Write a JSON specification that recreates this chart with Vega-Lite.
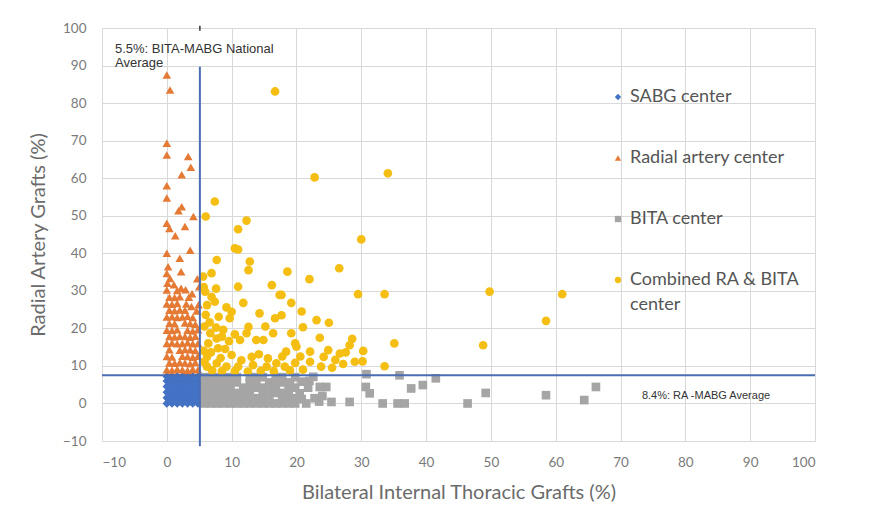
{
  "$schema": "https://vega.github.io/schema/vega-lite/v6.json",
  "width": 713,
  "height": 413,
  "autosize": {"type": "none"},
  "padding": {"left": 102, "top": 28, "right": 58, "bottom": 73},
  "background": "white",
  "config": {
    "view": {"stroke": null},
    "font": "Lato",
    "axis": {"grid": true, "gridColor": "#D9D9D9", "gridWidth": 1, "domain": false, "ticks": false, "labelOverlap": false, "tickCount": 20, "labelFont": "Lato", "labelFontSize": 13.5, "labelColor": "#7a7a7a", "titleFont": "Lato", "titleFontSize": 20, "titleFontWeight": "normal", "titleColor": "#6b6b6b"},
    "legend": {"orient": "none", "legendX": 507, "legendY": 60, "title": null, "labelFont": "Lato", "labelFontSize": 18, "labelColor": "#555555", "symbolSize": 40, "rowPadding": 43, "labelOffset": 3, "labelLimit": 300},
    "style": {"guide-label": {"lineHeight": 25}}
  },
  "layer": [
    {
      "data": {"values": [
        {"x":0,"y":0,"g":"S"},{"x":0.8,"y":0,"g":"S"},{"x":1.6,"y":0,"g":"S"},{"x":2.4,"y":0,"g":"S"},{"x":3.2,"y":0,"g":"S"},{"x":4,"y":0,"g":"S"},{"x":4.8,"y":0,"g":"S"},
        {"x":0,"y":1.5,"g":"S"},{"x":0.8,"y":1.5,"g":"S"},{"x":1.6,"y":1.5,"g":"S"},{"x":2.4,"y":1.5,"g":"S"},{"x":3.2,"y":1.5,"g":"S"},{"x":4,"y":1.5,"g":"S"},{"x":4.8,"y":1.5,"g":"S"},
        {"x":0,"y":3,"g":"S"},{"x":0.8,"y":3,"g":"S"},{"x":1.6,"y":3,"g":"S"},{"x":2.4,"y":3,"g":"S"},{"x":3.2,"y":3,"g":"S"},{"x":4,"y":3,"g":"S"},{"x":4.8,"y":3,"g":"S"},
        {"x":0,"y":4.5,"g":"S"},{"x":0.8,"y":4.5,"g":"S"},{"x":1.6,"y":4.5,"g":"S"},{"x":2.4,"y":4.5,"g":"S"},{"x":3.2,"y":4.5,"g":"S"},{"x":4,"y":4.5,"g":"S"},{"x":4.8,"y":4.5,"g":"S"},
        {"x":0,"y":6,"g":"S"},{"x":0.8,"y":6,"g":"S"},{"x":1.6,"y":6,"g":"S"},{"x":2.4,"y":6,"g":"S"},{"x":3.2,"y":6,"g":"S"},{"x":4,"y":6,"g":"S"},{"x":4.8,"y":6,"g":"S"},
        {"x":0,"y":7.2,"g":"S"},{"x":0.8,"y":7.2,"g":"S"},{"x":1.6,"y":7.2,"g":"S"},{"x":2.4,"y":7.2,"g":"S"},{"x":3.2,"y":7.2,"g":"S"},{"x":4,"y":7.2,"g":"S"},{"x":4.8,"y":7.2,"g":"S"},
        {"x":0.4,"y":0.75,"g":"S"},{"x":1.2,"y":0.75,"g":"S"},{"x":2,"y":0.75,"g":"S"},{"x":2.8,"y":0.75,"g":"S"},{"x":3.6,"y":0.75,"g":"S"},{"x":4.4,"y":0.75,"g":"S"},
        {"x":0.4,"y":2.25,"g":"S"},{"x":1.2,"y":2.25,"g":"S"},{"x":2,"y":2.25,"g":"S"},{"x":2.8,"y":2.25,"g":"S"},{"x":3.6,"y":2.25,"g":"S"},{"x":4.4,"y":2.25,"g":"S"},
        {"x":0.4,"y":3.75,"g":"S"},{"x":1.2,"y":3.75,"g":"S"},{"x":2,"y":3.75,"g":"S"},{"x":2.8,"y":3.75,"g":"S"},{"x":3.6,"y":3.75,"g":"S"},{"x":4.4,"y":3.75,"g":"S"},
        {"x":0.4,"y":5.25,"g":"S"},{"x":1.2,"y":5.25,"g":"S"},{"x":2,"y":5.25,"g":"S"},{"x":2.8,"y":5.25,"g":"S"},{"x":3.6,"y":5.25,"g":"S"},{"x":4.4,"y":5.25,"g":"S"},
        {"x":0.4,"y":6.6,"g":"S"},{"x":1.2,"y":6.6,"g":"S"},{"x":2,"y":6.6,"g":"S"},{"x":2.8,"y":6.6,"g":"S"},{"x":3.6,"y":6.6,"g":"S"},{"x":4.4,"y":6.6,"g":"S"},

        {"x":0,"y":87.5,"g":"R"},{"x":0.5,"y":83.5,"g":"R"},{"x":0,"y":69.3,"g":"R"},{"x":0,"y":66.2,"g":"R"},{"x":3.3,"y":65.8,"g":"R"},{"x":3.7,"y":62.9,"g":"R"},{"x":2.3,"y":60.9,"g":"R"},{"x":0,"y":58,"g":"R"},{"x":0,"y":54.7,"g":"R"},{"x":2.3,"y":52.4,"g":"R"},{"x":1.8,"y":51.3,"g":"R"},{"x":4.1,"y":49.8,"g":"R"},{"x":0,"y":48,"g":"R"},{"x":0.4,"y":46.6,"g":"R"},{"x":2.8,"y":47.1,"g":"R"},{"x":1.3,"y":44.7,"g":"R"},{"x":0,"y":40,"g":"R"},{"x":2,"y":38.7,"g":"R"},{"x":3.6,"y":40.8,"g":"R"},{"x":0.2,"y":36.4,"g":"R"},{"x":2.2,"y":35.1,"g":"R"},{"x":0.5,"y":33.3,"g":"R"},{"x":1.1,"y":31.6,"g":"R"},{"x":2.2,"y":30.7,"g":"R"},{"x":2.9,"y":30.3,"g":"R"},{"x":3.8,"y":25.8,"g":"R"},{"x":5,"y":31.1,"g":"R"},{"x":4.7,"y":33.2,"g":"R"},{"x":0,"y":34.6,"g":"R"},{"x":3.9,"y":29.2,"g":"R"},
        {"x":0,"y":9,"g":"R"},{"x":0.8,"y":8.9,"g":"R"},{"x":1.6,"y":9.1,"g":"R"},{"x":2.4,"y":9,"g":"R"},{"x":3.2,"y":8.8,"g":"R"},{"x":4,"y":9.1,"g":"R"},{"x":4.8,"y":9,"g":"R"},
        {"x":0.4,"y":10.8,"g":"R"},{"x":1.2,"y":10.7,"g":"R"},{"x":2,"y":10.9,"g":"R"},{"x":2.8,"y":10.8,"g":"R"},{"x":3.6,"y":10.6,"g":"R"},{"x":4.4,"y":10.9,"g":"R"},
        {"x":0,"y":12.5,"g":"R"},{"x":0.8,"y":12.4,"g":"R"},{"x":2.4,"y":12.6,"g":"R"},{"x":3.2,"y":12.5,"g":"R"},{"x":4,"y":12.3,"g":"R"},{"x":4.8,"y":12.6,"g":"R"},
        {"x":0.4,"y":14.3,"g":"R"},{"x":2,"y":14.2,"g":"R"},{"x":2.8,"y":14.4,"g":"R"},{"x":3.6,"y":14.3,"g":"R"},{"x":4.4,"y":14.1,"g":"R"},
        {"x":0,"y":16,"g":"R"},{"x":0.8,"y":16.1,"g":"R"},{"x":1.6,"y":15.9,"g":"R"},{"x":2.4,"y":16,"g":"R"},{"x":3.2,"y":16.2,"g":"R"},{"x":4,"y":15.9,"g":"R"},{"x":4.8,"y":16,"g":"R"},
        {"x":0.4,"y":17.8,"g":"R"},{"x":1.2,"y":17.7,"g":"R"},{"x":2,"y":17.9,"g":"R"},{"x":2.8,"y":17.8,"g":"R"},{"x":3.6,"y":17.6,"g":"R"},{"x":4.4,"y":17.9,"g":"R"},
        {"x":0,"y":19.5,"g":"R"},{"x":0.8,"y":19.4,"g":"R"},{"x":1.6,"y":19.6,"g":"R"},{"x":3.2,"y":19.5,"g":"R"},{"x":4,"y":19.3,"g":"R"},{"x":4.8,"y":19.6,"g":"R"},
        {"x":0.4,"y":21.3,"g":"R"},{"x":1.2,"y":21.2,"g":"R"},{"x":2.8,"y":21.4,"g":"R"},{"x":3.6,"y":21.3,"g":"R"},{"x":4.4,"y":21.1,"g":"R"},
        {"x":0,"y":23,"g":"R"},{"x":0.8,"y":23.1,"g":"R"},{"x":1.6,"y":22.9,"g":"R"},{"x":2.4,"y":23,"g":"R"},{"x":3.2,"y":23.2,"g":"R"},{"x":4,"y":22.9,"g":"R"},
        {"x":0.4,"y":24.8,"g":"R"},{"x":1.2,"y":24.7,"g":"R"},{"x":2,"y":24.9,"g":"R"},{"x":2.8,"y":24.8,"g":"R"},{"x":4.6,"y":24.6,"g":"R"},
        {"x":0,"y":26.5,"g":"R"},{"x":0.8,"y":26.4,"g":"R"},{"x":1.6,"y":26.6,"g":"R"},{"x":3,"y":26.5,"g":"R"},{"x":4.9,"y":26.3,"g":"R"},
        {"x":0.4,"y":28.3,"g":"R"},{"x":1.2,"y":28.2,"g":"R"},{"x":2,"y":28.4,"g":"R"},{"x":3.4,"y":28.3,"g":"R"},
        {"x":0,"y":30.2,"g":"R"},{"x":1.6,"y":30.1,"g":"R"},{"x":0.1,"y":32,"g":"R"},

        {"x":5.8,"y":0,"g":"B"},{"x":6.8,"y":0,"g":"B"},{"x":7.8,"y":0,"g":"B"},{"x":8.8,"y":0,"g":"B"},{"x":9.8,"y":0,"g":"B"},{"x":10.8,"y":0,"g":"B"},{"x":11.8,"y":0,"g":"B"},{"x":12.8,"y":0,"g":"B"},{"x":13.8,"y":0,"g":"B"},{"x":14.8,"y":0,"g":"B"},{"x":15.8,"y":0,"g":"B"},{"x":16.8,"y":0,"g":"B"},{"x":17.8,"y":0,"g":"B"},{"x":18.8,"y":0,"g":"B"},{"x":19.8,"y":0,"g":"B"},
        {"x":5.8,"y":1.4,"g":"B"},{"x":6.8,"y":1.4,"g":"B"},{"x":7.8,"y":1.4,"g":"B"},{"x":8.8,"y":1.4,"g":"B"},{"x":9.8,"y":1.4,"g":"B"},{"x":10.8,"y":1.4,"g":"B"},{"x":11.8,"y":1.4,"g":"B"},{"x":12.8,"y":1.4,"g":"B"},{"x":13.8,"y":1.4,"g":"B"},{"x":14.8,"y":1.4,"g":"B"},{"x":15.8,"y":1.4,"g":"B"},{"x":17.8,"y":1.4,"g":"B"},{"x":18.8,"y":1.4,"g":"B"},{"x":19.8,"y":1.4,"g":"B"},
        {"x":5.8,"y":2.8,"g":"B"},{"x":6.8,"y":2.8,"g":"B"},{"x":7.8,"y":2.8,"g":"B"},{"x":8.8,"y":2.8,"g":"B"},{"x":9.8,"y":2.8,"g":"B"},{"x":10.8,"y":2.8,"g":"B"},{"x":11.8,"y":2.8,"g":"B"},{"x":12.8,"y":2.8,"g":"B"},{"x":14.8,"y":2.8,"g":"B"},{"x":15.8,"y":2.8,"g":"B"},{"x":16.8,"y":2.8,"g":"B"},{"x":17.8,"y":2.8,"g":"B"},{"x":18.8,"y":2.8,"g":"B"},
        {"x":5.8,"y":4.2,"g":"B"},{"x":6.8,"y":4.2,"g":"B"},{"x":7.8,"y":4.2,"g":"B"},{"x":8.8,"y":4.2,"g":"B"},{"x":9.8,"y":4.2,"g":"B"},{"x":11.8,"y":4.2,"g":"B"},{"x":12.8,"y":4.2,"g":"B"},{"x":13.8,"y":4.2,"g":"B"},{"x":14.8,"y":4.2,"g":"B"},{"x":15.8,"y":4.2,"g":"B"},{"x":16.8,"y":4.2,"g":"B"},{"x":18.8,"y":4.2,"g":"B"},{"x":19.8,"y":4.2,"g":"B"},
        {"x":5.8,"y":5.6,"g":"B"},{"x":6.8,"y":5.6,"g":"B"},{"x":7.8,"y":5.6,"g":"B"},{"x":8.8,"y":5.6,"g":"B"},{"x":9.8,"y":5.6,"g":"B"},{"x":10.8,"y":5.6,"g":"B"},{"x":12.8,"y":5.6,"g":"B"},{"x":13.8,"y":5.6,"g":"B"},{"x":15.8,"y":5.6,"g":"B"},{"x":16.8,"y":5.6,"g":"B"},{"x":17.8,"y":5.6,"g":"B"},{"x":18.8,"y":5.6,"g":"B"},
        {"x":5.8,"y":7,"g":"B"},{"x":6.8,"y":7,"g":"B"},{"x":7.8,"y":7,"g":"B"},{"x":8.8,"y":7,"g":"B"},{"x":9.8,"y":7,"g":"B"},{"x":10.8,"y":7,"g":"B"},{"x":12.8,"y":7,"g":"B"},{"x":13.8,"y":7,"g":"B"},{"x":14.8,"y":7,"g":"B"},{"x":16.8,"y":7,"g":"B"},{"x":17.8,"y":7,"g":"B"},{"x":19.8,"y":7,"g":"B"},
        {"x":20.5,"y":2.7,"g":"B"},{"x":21.5,"y":0,"g":"B"},{"x":22.6,"y":7.1,"g":"B"},{"x":23.6,"y":4.4,"g":"B"},{"x":24.6,"y":4.4,"g":"B"},{"x":19,"y":5.3,"g":"B"},{"x":20.8,"y":1.2,"g":"B"},{"x":21.8,"y":4.2,"g":"B"},{"x":22.8,"y":1.4,"g":"B"},{"x":23.5,"y":0.5,"g":"B"},{"x":20.8,"y":5.8,"g":"B"},{"x":22,"y":6,"g":"B"},{"x":24,"y":2,"g":"B"},{"x":25.4,"y":0.4,"g":"B"},{"x":28.2,"y":0.4,"g":"B"},{"x":30.8,"y":7.8,"g":"B"},{"x":35.9,"y":7.5,"g":"B"},{"x":30.7,"y":4.4,"g":"B"},{"x":31.3,"y":2.7,"g":"B"},{"x":33.3,"y":0,"g":"B"},{"x":35.6,"y":0,"g":"B"},{"x":36.7,"y":0,"g":"B"},{"x":37.7,"y":4,"g":"B"},{"x":39.5,"y":4.9,"g":"B"},{"x":41.5,"y":6.7,"g":"B"},{"x":46.4,"y":0,"g":"B"},{"x":49.2,"y":2.8,"g":"B"},{"x":58.5,"y":2.2,"g":"B"},{"x":64.4,"y":0.9,"g":"B"},{"x":66.2,"y":4.4,"g":"B"},

        {"x":16.7,"y":83.1,"g":"C"},{"x":7.4,"y":53.8,"g":"C"},{"x":6,"y":49.8,"g":"C"},{"x":12.3,"y":48.7,"g":"C"},{"x":11,"y":46.4,"g":"C"},{"x":10.5,"y":41.3,"g":"C"},{"x":11,"y":41,"g":"C"},{"x":22.8,"y":60.2,"g":"C"},{"x":34.1,"y":61.3,"g":"C"},{"x":30,"y":43.7,"g":"C"},{"x":18.6,"y":35.1,"g":"C"},{"x":26.6,"y":36,"g":"C"},{"x":22,"y":33.1,"g":"C"},{"x":17.7,"y":28.9,"g":"C"},{"x":19.2,"y":26.8,"g":"C"},{"x":29.5,"y":29.1,"g":"C"},{"x":33.6,"y":29.1,"g":"C"},{"x":17.7,"y":23.5,"g":"C"},{"x":23.1,"y":22.2,"g":"C"},{"x":19.2,"y":18.7,"g":"C"},{"x":19.8,"y":16,"g":"C"},{"x":23.6,"y":17.5,"g":"C"},{"x":18.4,"y":13.8,"g":"C"},{"x":22.1,"y":13.8,"g":"C"},{"x":24.9,"y":14.2,"g":"C"},{"x":26.7,"y":13.3,"g":"C"},{"x":28.2,"y":15.5,"g":"C"},{"x":27.6,"y":13.6,"g":"C"},{"x":28.6,"y":17.2,"g":"C"},{"x":30.3,"y":14,"g":"C"},{"x":35.1,"y":16,"g":"C"},{"x":29,"y":11.1,"g":"C"},{"x":30.2,"y":11.2,"g":"C"},{"x":19.8,"y":10.8,"g":"C"},{"x":22.1,"y":11.1,"g":"C"},{"x":23.8,"y":9.8,"g":"C"},{"x":33.6,"y":9.9,"g":"C"},{"x":49.8,"y":29.8,"g":"C"},{"x":61,"y":29.1,"g":"C"},{"x":58.5,"y":22,"g":"C"},{"x":48.8,"y":15.5,"g":"C"},
        {"x":7.7,"y":38.2,"g":"C"},{"x":12.8,"y":37.8,"g":"C"},{"x":12.6,"y":35.5,"g":"C"},{"x":6.9,"y":34.7,"g":"C"},{"x":5.6,"y":33.8,"g":"C"},{"x":11,"y":31.1,"g":"C"},{"x":5.9,"y":29.8,"g":"C"},{"x":6.9,"y":28.4,"g":"C"},{"x":7.4,"y":27.1,"g":"C"},{"x":6.2,"y":26.2,"g":"C"},{"x":16.2,"y":31.5,"g":"C"},{"x":17.4,"y":28.9,"g":"C"},{"x":10,"y":24.4,"g":"C"},{"x":9.7,"y":22.7,"g":"C"},{"x":16.7,"y":22.7,"g":"C"},{"x":12.6,"y":20.4,"g":"C"},{"x":12.3,"y":18.7,"g":"C"},{"x":11.3,"y":16.9,"g":"C"},{"x":6.7,"y":18.7,"g":"C"},{"x":7.7,"y":17.3,"g":"C"},{"x":8.5,"y":17.8,"g":"C"},{"x":6.4,"y":16,"g":"C"},{"x":7.9,"y":14.7,"g":"C"},{"x":13.8,"y":16.9,"g":"C"},{"x":14.9,"y":16.9,"g":"C"},{"x":16.4,"y":18.7,"g":"C"},{"x":6.2,"y":12.4,"g":"C"},{"x":10,"y":12.9,"g":"C"},{"x":11.5,"y":11.5,"g":"C"},{"x":13.1,"y":12.4,"g":"C"},{"x":7.7,"y":10.7,"g":"C"},{"x":6.2,"y":9.8,"g":"C"},{"x":9.2,"y":9.8,"g":"C"},{"x":11,"y":9.8,"g":"C"},{"x":13.3,"y":10.2,"g":"C"},{"x":15.4,"y":9.8,"g":"C"},{"x":16.9,"y":10.7,"g":"C"},{"x":18.2,"y":9.8,"g":"C"},{"x":20,"y":15.1,"g":"C"},
        {"x":5.8,"y":20.5,"g":"C"},{"x":6.6,"y":21.6,"g":"C"},{"x":7.6,"y":20.2,"g":"C"},{"x":8.7,"y":19.6,"g":"C"},{"x":5.7,"y":14,"g":"C"},{"x":6.8,"y":13.6,"g":"C"},{"x":8.3,"y":12.1,"g":"C"},{"x":9,"y":14.5,"g":"C"},{"x":5.8,"y":11,"g":"C"},{"x":7,"y":8.8,"g":"C"},{"x":8.5,"y":8.6,"g":"C"},{"x":10.5,"y":8.6,"g":"C"},{"x":12.5,"y":8.5,"g":"C"},{"x":14.5,"y":8.7,"g":"C"},{"x":16.5,"y":8.6,"g":"C"},{"x":19,"y":8.8,"g":"C"},{"x":21,"y":9,"g":"C"},{"x":25.5,"y":9.5,"g":"C"},{"x":27.2,"y":10.5,"g":"C"},{"x":26,"y":11.6,"g":"C"},{"x":24.2,"y":12.4,"g":"C"},{"x":20.6,"y":12.5,"g":"C"},{"x":9.6,"y":16.6,"g":"C"},{"x":10.5,"y":18.4,"g":"C"},{"x":14.2,"y":13.1,"g":"C"},{"x":15.6,"y":12,"g":"C"},{"x":17.8,"y":12.5,"g":"C"},{"x":6,"y":23.6,"g":"C"},{"x":8,"y":23.1,"g":"C"},{"x":5.7,"y":31,"g":"C"},{"x":7.6,"y":30.6,"g":"C"},{"x":9.2,"y":25.6,"g":"C"},{"x":11.8,"y":26.8,"g":"C"},{"x":14.3,"y":24,"g":"C"},{"x":15.2,"y":20.5,"g":"C"},{"x":21,"y":20.3,"g":"C"},{"x":20.8,"y":24.5,"g":"C"},{"x":25,"y":21.5,"g":"C"}
      ]},
      "mark": {"type": "point", "filled": true, "opacity": 1, "size": 75},
      "encoding": {
        "x": {"field": "x", "type": "quantitative", "scale": {"domain": [-10, 100], "nice": false, "zero": false}, "axis": {"values": [-10,0,10,20,30,40,50,60,70,80,90,100], "tickCount": 20, "labelOverlap": false, "title": "Bilateral Internal Thoracic Grafts (%)", "labelPadding": 14, "titlePadding": 14}},
        "y": {"field": "y", "type": "quantitative", "scale": {"domain": [-10, 100], "nice": false, "zero": false}, "axis": {"values": [-10,0,10,20,30,40,50,60,70,80,90,100], "tickCount": 20, "labelOverlap": false, "title": "Radial Artery Grafts (%)", "labelPadding": 16, "titlePadding": 14}},
        "color": {"field": "g", "type": "nominal", "scale": {"domain": ["S","R","B","C"], "range": ["#4472C4","#E57A35","#A5A5A5","#F5BE12"]}, "legend": {"labelExpr": "datum.label == 'S' ? 'SABG center' : datum.label == 'R' ? 'Radial artery center' : datum.label == 'B' ? 'BITA center' : ['Combined RA & BITA', 'center']"}},
        "shape": {"field": "g", "type": "nominal", "scale": {"domain": ["S","R","B","C"], "range": ["diamond","triangle-up","square","circle"]}, "legend": {"labelExpr": "datum.label == 'S' ? 'SABG center' : datum.label == 'R' ? 'Radial artery center' : datum.label == 'B' ? 'BITA center' : ['Combined RA & BITA', 'center']"}}
      }
    },
    {
      "data": {"values": [{"x": 5.1, "y": -11.4, "y2": 89.7}]},
      "mark": {"type": "rule", "color": "#4A6DB3", "strokeWidth": 2},
      "encoding": {"x": {"field": "x", "type": "quantitative"}, "y": {"field": "y", "type": "quantitative"}, "y2": {"field": "y2"}}
    },
    {
      "data": {"values": [{"x": 5.1, "y": 99.3, "y2": 100.6}]},
      "mark": {"type": "rule", "color": "#333333", "strokeWidth": 1.5},
      "encoding": {"x": {"field": "x", "type": "quantitative"}, "y": {"field": "y", "type": "quantitative"}, "y2": {"field": "y2"}}
    },
    {
      "data": {"values": [{"x": -10, "x2": 100, "y": 7.5}]},
      "mark": {"type": "rule", "color": "#4A6DB3", "strokeWidth": 2},
      "encoding": {"x": {"field": "x", "type": "quantitative"}, "x2": {"field": "x2"}, "y": {"field": "y", "type": "quantitative"}}
    },
    {
      "data": {"values": [
        {"x": -8, "y": 96, "t": "5.5%: BITA-MABG National\nAverage", "s": 13},
        {"x": 73.3, "y": 3.7, "t": "8.4%: RA -MABG Average", "s": 11}
      ]},
      "mark": {"type": "text", "align": "left", "baseline": "top", "font": "Liberation Sans", "color": "#333333", "lineBreak": "\n", "lineHeight": 14},
      "encoding": {"x": {"field": "x", "type": "quantitative"}, "y": {"field": "y", "type": "quantitative"}, "text": {"field": "t"}, "size": {"field": "s", "type": "quantitative", "scale": null, "legend": null}}
    }
  ]
}
